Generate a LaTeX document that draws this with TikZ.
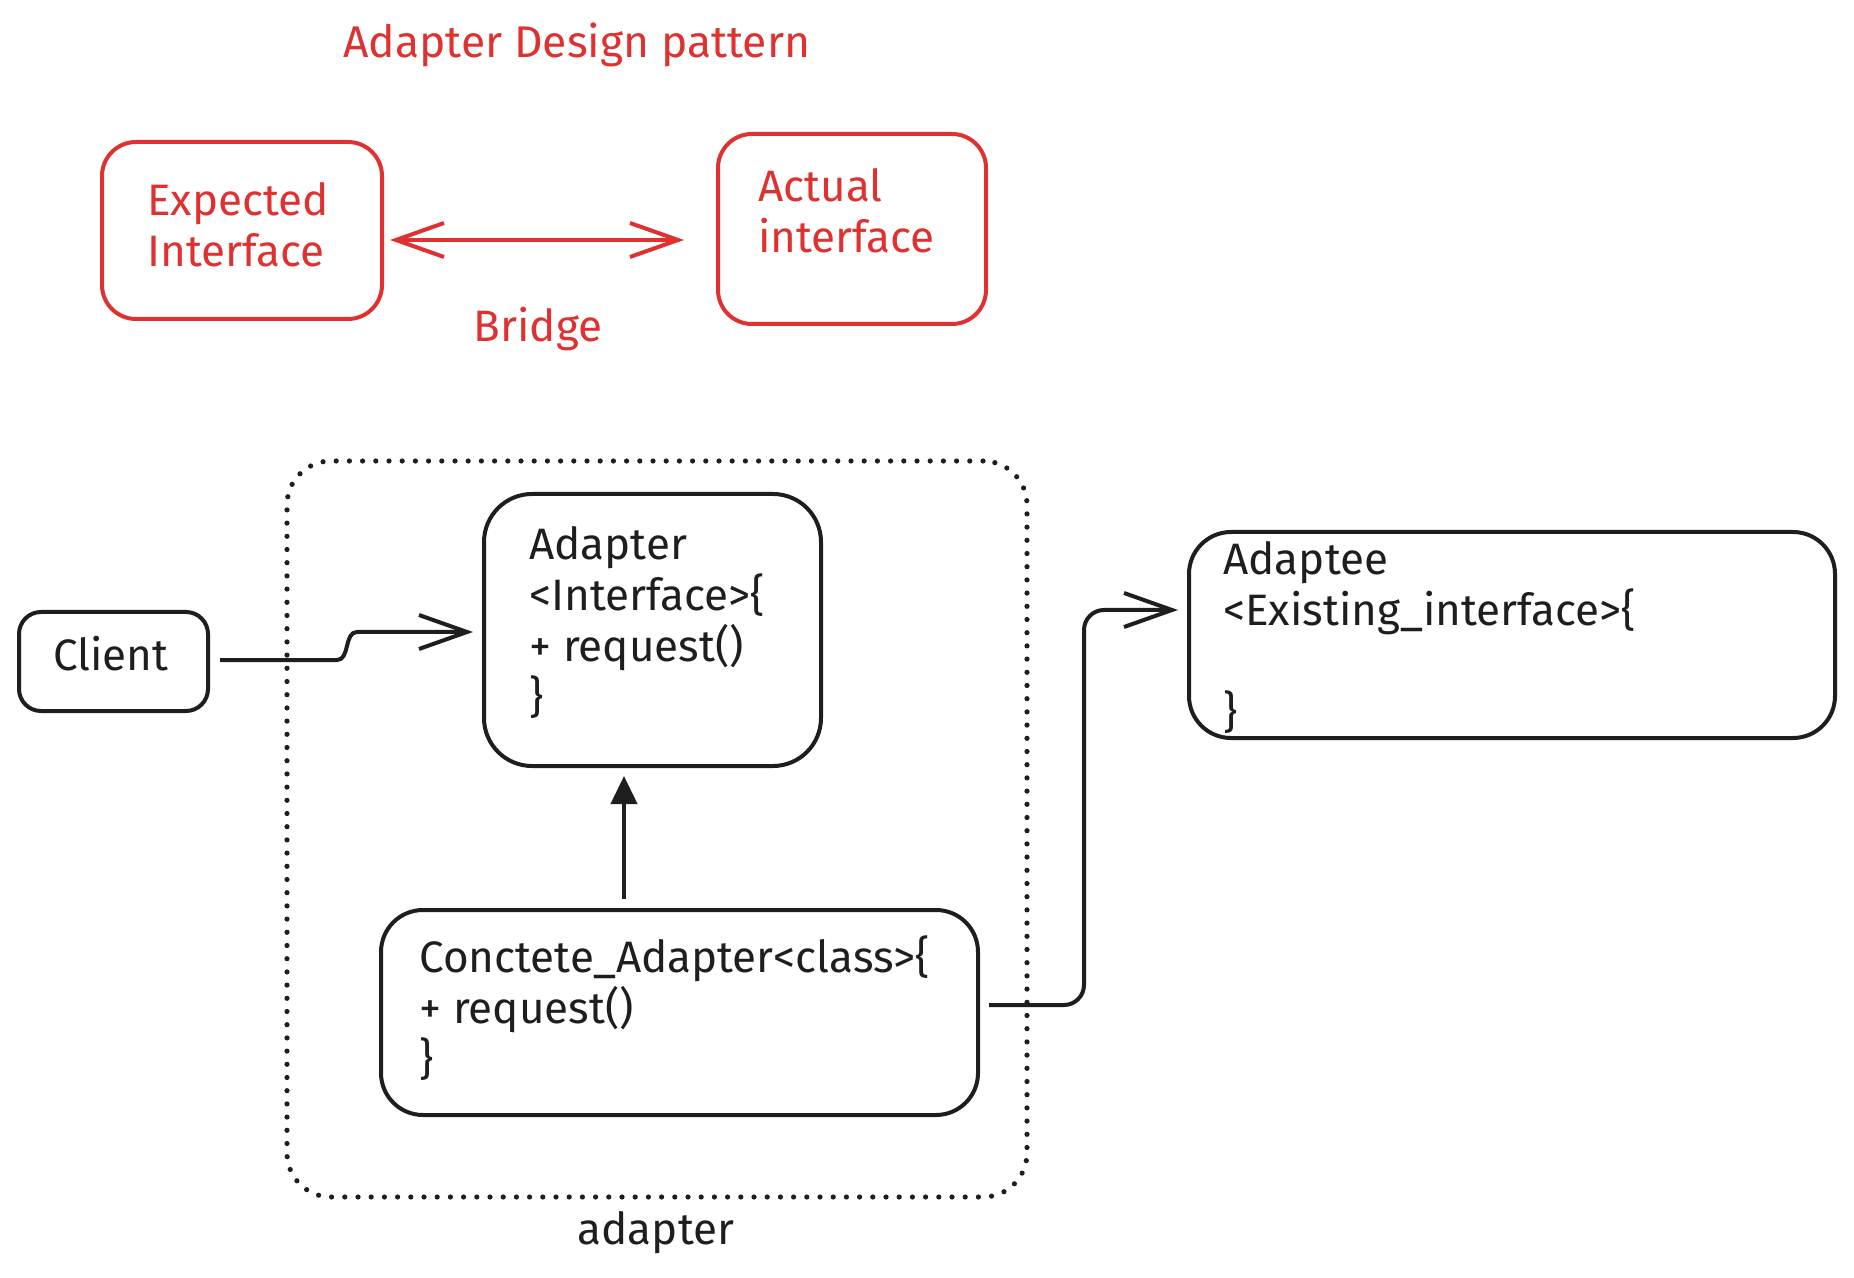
\documentclass[tikz,border=0pt]{standalone}
\usepackage{fontspec}
\setmainfont{Fira Sans}
\usetikzlibrary{arrows.meta,calc}
\definecolor{exred}{HTML}{E03131}
\definecolor{exblack}{HTML}{1E1E1E}
\begin{document}
\begin{tikzpicture}[x=0.5pt,y=-0.5pt,
  box/.style={draw, line width=2pt, rounded corners=17pt, inner sep=0pt},
  redbox/.style={box, draw=exred},
  blackbox/.style={box, draw=exblack},
  txt/.style={inner sep=0pt, align=left, font=\fontsize{22}{25.5}\selectfont},
  redtxt/.style={txt, text=exred},
  blacktxt/.style={txt, text=exblack},
  barb/.style={line width=2pt, -{Straight Barb[length=24pt,width=17pt,line width=2pt]}},
  tri/.style={line width=2pt, -{Triangle[length=14pt,width=13pt]}},
  dotbox/.style={draw=exblack, line width=2.6pt, line cap=round, dash pattern=on 0pt off 6.6pt, rounded corners=22pt}
]
\useasboundingbox (0,0) rectangle (1854,1278);
\fill[white] (0,0) rectangle (1854,1278);

% title
\node[redtxt, anchor=west, font=\fontsize{22.2}{26}\selectfont] (title) at (343,45) {Adapter Design pattern};

% top boxes
\node[redbox, minimum width=140pt, minimum height=88.5pt] (exp) at (242,230.5) {};
\node[redtxt, anchor=west] (exptxt) at (147,224.5) {Expected\\Interface};
\node[redbox, minimum width=134pt, minimum height=95pt] (act) at (852,229) {};
\node[redtxt, anchor=west] (acttxt) at (758,211) {Actual\\interface};
\draw[exred, line width=2pt, {Straight Barb[length=24pt,width=17pt,line width=2pt]}-{Straight Barb[length=24pt,width=17pt,line width=2pt]}]
  ([xshift=3pt,yshift=-4.75pt]exp.east) -- ([xshift=-16pt,yshift=-5.5pt]act.west);
\node[redtxt, anchor=center] (bridge) at (538,329) {Bridge};

% dotted container
\node[dotbox, minimum width=370pt, minimum height=368pt, inner sep=0pt] (cont) at (657,829) {};
\node[blacktxt] (contlbl) at (656,1233) {adapter};

% client
\node[blackbox, minimum width=94.5pt, minimum height=49.5pt, rounded corners=11pt] (client) at (113.5,661.5) {};
\node[blacktxt] (clienttxt) at (111,654) {Client};

% adapter interface
\node[blackbox, minimum width=168.5pt, minimum height=136pt, rounded corners=24pt] (adapter) at (652.5,630) {};
\node[blacktxt, anchor=west] (adaptertxt) at (529,622) {Adapter\\{<}Interface{>}\{\\+ request()\\\}};

% concrete adapter
\node[blackbox, minimum width=298.5pt, minimum height=102.5pt, rounded corners=21pt] (conc) at (679.5,1012.5) {};
\node[blacktxt, anchor=west] (conctxt) at (419,1008.5) {Conctete\_Adapter{<}class{>}\{\\+ request()\\\}};

% adaptee
\node[blackbox, minimum width=323pt, minimum height=103pt, rounded corners=21pt] (adaptee) at (1512,635) {};
\node[blacktxt, anchor=west] (adapteetxt) at (1223,637) {Adaptee\\{<}Existing\_interface{>}\{\\[25.5pt]\}};

% connectors
\coordinate (cstart) at ([xshift=5pt,yshift=0.75pt]client.east);
\coordinate (cend) at ([xshift=-4.5pt,yshift=-1pt]adapter.west);
\coordinate (s1) at (337,660);
\coordinate (s2) at (357,632);
\draw[exblack, barb] (cstart) -- (s1) .. controls (350,660) and (344,632) .. (s2) -- (cend);

\coordinate (vx) at (624,0);
\draw[exblack, tri] ([yshift=4.5pt]conc.north -| vx) -- ([yshift=-4pt]adapter.south -| vx);

\coordinate (astart) at ([xshift=4.5pt,yshift=3.75pt]conc.east);
\coordinate (aend) at ([xshift=-4.5pt,yshift=12.5pt]adaptee.west);
\coordinate (bend) at (1084,800);
\draw[exblack, barb, rounded corners=10pt] (astart) -| (bend) |- (aend);
\end{tikzpicture}
\end{document}
